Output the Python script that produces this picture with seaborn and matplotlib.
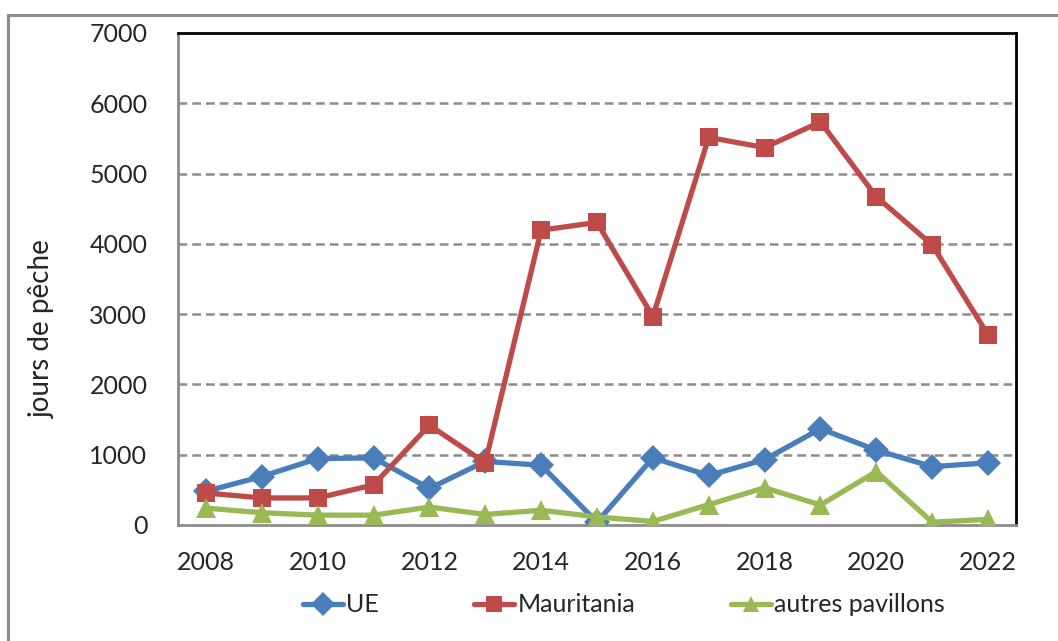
import matplotlib
matplotlib.use("Agg")
import matplotlib.pyplot as plt
import matplotlib.patches as mpatches
from matplotlib.lines import Line2D
import seaborn as sns
import pandas as pd
import numpy as np

years = list(range(2008, 2023))
ue = [480, 690, 945, 955, 520, 905, 850, 40, 955, 705, 930, 1370, 1065, 830, 885]
mauritania = [455, 385, 385, 570, 1420, 885, 4195, 4305, 2965, 5515, 5370, 5735, 4670, 3985, 2705]
autres = [240, 175, 140, 140, 255, 150, 210, 115, 50, 290, 530, 285, 760, 40, 80]
series_names = ["UE", "Mauritania", "autres pavillons"]
colors = ["#4A7EBB", "#BE4B48", "#98B954"]
markers = ["D", "s", "^"]
y_ticks = [0, 1000, 2000, 3000, 4000, 5000, 6000, 7000]
y_label = "jours de pêche"

df = pd.DataFrame({
    "idx": list(range(len(years))) * 3,
    "value": ue + mauritania + autres,
    "serie": sum([[n] * len(years) for n in series_names], []),
})

sns.set_style("white")
plt.rcParams["font.family"] = ["Lato", "DejaVu Sans"]

fig = plt.figure(figsize=(10.58, 6.41), dpi=100)
ax = fig.add_axes([178/1058, 1-525/641, (1016-178)/1058, (525-33)/641])

# outer chart border
fig.patches.append(mpatches.Rectangle((8/1058, -0.1), 1.2, 1-15/641+0.1,
                                      transform=fig.transFigure, fill=False,
                                      edgecolor="#8C8C8C", linewidth=2.2, zorder=0))

msizes = {"UE": 13, "Mauritania": 13, "autres pavillons": 14}
for name, col, mk in zip(series_names, colors, markers):
    sub = df[df["serie"] == name]
    sns.lineplot(data=sub, x="idx", y="value", ax=ax, color=col, marker=mk,
                 markersize=msizes[name], markeredgewidth=0, linewidth=3.8,
                 legend=False, zorder=3)

ax.set_xlim(-0.5, len(years) - 0.5)
ax.set_ylim(0, 7000)
ax.set_yticks(y_ticks)
ax.set_yticklabels([str(v) for v in y_ticks], fontsize=18)
ax.set_xticks(range(0, len(years), 2))
ax.set_xticklabels([str(years[i]) for i in range(0, len(years), 2)], fontsize=18)
ax.set_xticks(np.arange(-0.5, len(years), 1.0), minor=True)
ax.tick_params(axis="x", which="major", length=0, pad=19)
ax.tick_params(axis="x", which="minor", length=8, width=1.5, color="#8C8C8C", direction="out")
ax.tick_params(axis="y", which="major", length=8, width=1.5, color="#8C8C8C", direction="out", pad=14)
ax.set_xlabel("")
ax.set_ylabel(y_label, fontsize=20)
ax.yaxis.set_label_coords(-0.147, 0.40)

for v in y_ticks[1:-1]:
    ax.axhline(v, color="#8C8C8C", linestyle=(0, (3.5, 2)), linewidth=1.8, zorder=1)

for s in ["left", "bottom"]:
    ax.spines[s].set_color("#8C8C8C")
    ax.spines[s].set_linewidth(2)
for s in ["top", "right"]:
    ax.spines[s].set_color("black")
    ax.spines[s].set_linewidth(2)

handles = [Line2D([0], [0], color=c, marker=m, markersize=12, markeredgewidth=0, linewidth=3.8)
           for c, m in zip(colors, markers)]
fig.legend(handles, series_names, loc="center", bbox_to_anchor=(624/1058, 1-605/641),
           ncol=3, frameon=False, fontsize=18, handlelength=1.6, handletextpad=0.15,
           columnspacing=3.8)

fig.savefig("out.png", dpi=100)
